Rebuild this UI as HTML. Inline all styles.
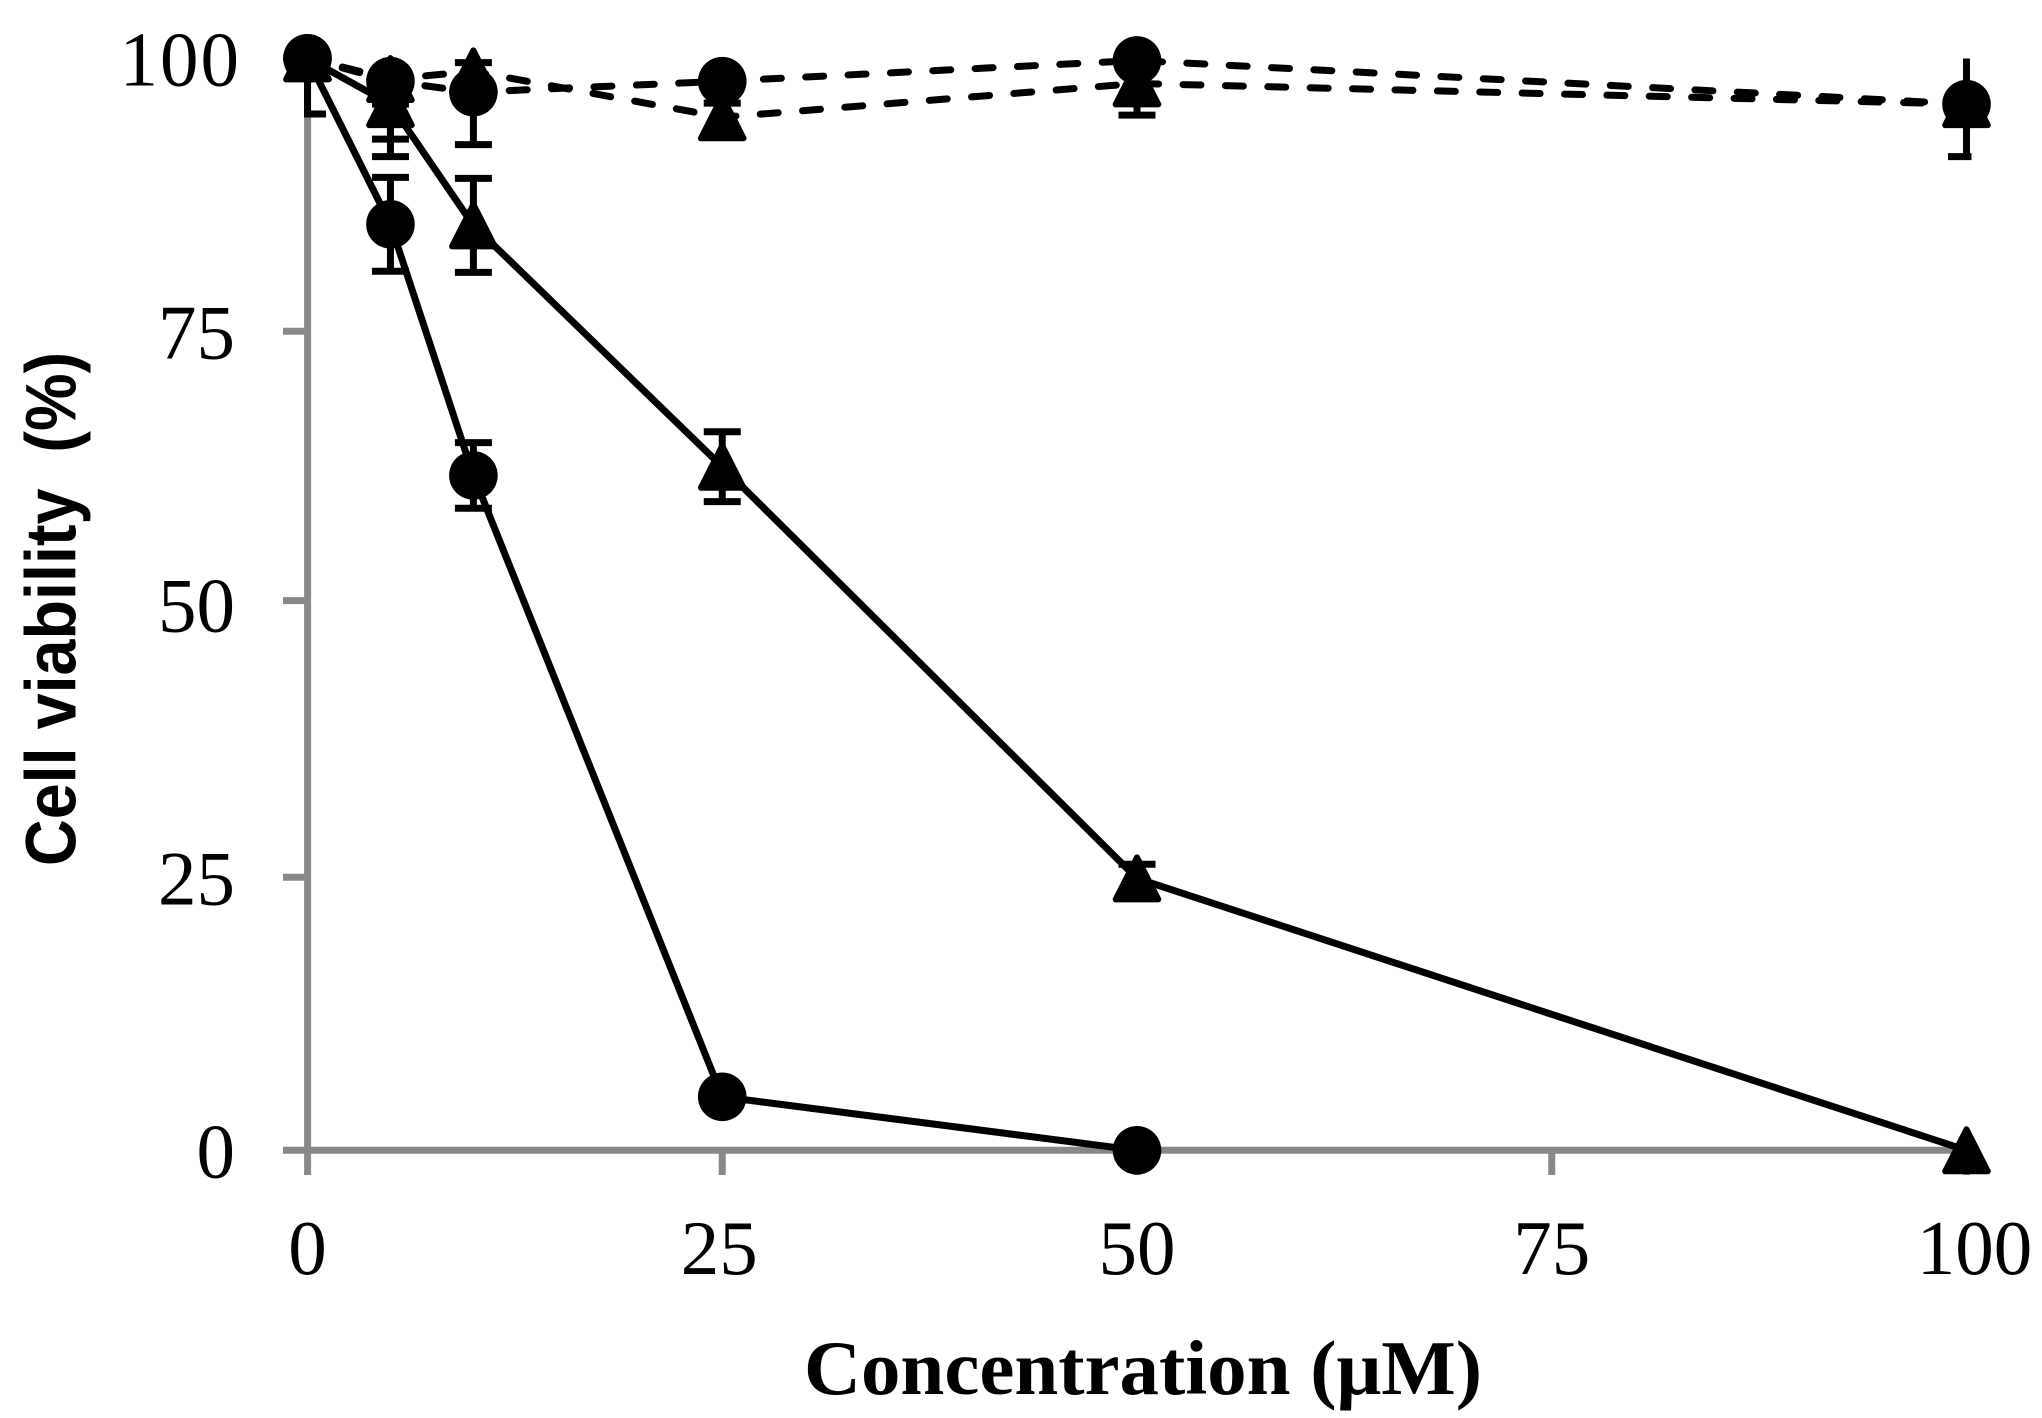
<!DOCTYPE html>
<html lang="en">
<head>
<meta charset="utf-8">
<title>Cell viability vs concentration</title>
<style>
  html, body { margin: 0; padding: 0; background: #fff; }
  svg { display: block; }
  .tick-label { font-family: "Liberation Serif", serif; font-size: 77px; fill: #000; }
</style>
</head>
<body>
<svg id="chart" xmlns="http://www.w3.org/2000/svg" width="2042" height="1418" viewBox="0 0 2042 1418">
  <rect x="0" y="0" width="2042" height="1418" fill="#ffffff"/>
  <defs>
    <clipPath id="plot-clip"><rect x="304" y="58.5" width="1667.5" height="1100"/></clipPath>
  </defs>
  <g id="axes"></g>
  <g id="series"></g>
  <text x="804" y="1394" font-family="'Liberation Serif', serif" font-weight="bold" font-size="77" textLength="678" lengthAdjust="spacingAndGlyphs" fill="#000">Concentration (μM)</text>
  <text transform="translate(75.5 866) rotate(-90)" font-family="'Liberation Sans', sans-serif" font-weight="bold" font-size="71" textLength="514" lengthAdjust="spacingAndGlyphs" xml:space="preserve" fill="#000">Cell viability  (%)</text>
</svg>
<script>
const xTicks = [0, 25, 50, 75, 100];
const yTicks = [0, 25, 50, 75, 100];
const concSolidCircle = [0, 5, 10, 25, 50];
const concOther = [0, 5, 10, 25, 50, 100];

const solidCircleValues = [100, 84.8, 61.8, 4.9, 0];
const solidCircleErrors = [0, 4.3, 3, 0, 0];

const solidTriangleValues = [100, 95.8, 84.7, 62.6, 24.9, 0];
const solidTriangleErrors = [0, 4.8, 4.3, 3.2, 1.3, 0];

const dashedTriangleValues = [100, 98.1, 98.8, 94.6, 97.7, 95.8];
const dashedTriangleErrors = [5.1, 2.3, 0.8, 1.3, 2.9, 0];

const dashedCircleValues = [100, 97.9, 96.9, 97.9, 99.8, 95.8];
const dashedCircleErrors = [0, 5.3, 4.8, 0, 0, 4.8];

const NS = 'http://www.w3.org/2000/svg';
const axesG = document.getElementById('axes');
const seriesG = document.getElementById('series');

function xScale(v) { return 307.5 + v * 16.59; }
function yScale(v) { return 1150.3 - v * 10.92; }

function make(tag, attrs, parent) {
  const el = document.createElementNS(NS, tag);
  for (const k in attrs) el.setAttribute(k, attrs[k]);
  parent.appendChild(el);
  return el;
}

const AXIS = '#888888';
const LINE_WIDTH = 7;

/* axes */
const yAxisLine = make('line', { x1: 307.6, x2: 307.6, y1: 54, y2: 1175, stroke: AXIS, 'stroke-width': 7 }, axesG);



const xAxisLine = make('line', { x1: 283, x2: 1971, y1: yScale(0), y2: yScale(0), stroke: AXIS, 'stroke-width': 7 }, axesG);



yTicks.forEach(function (t) {
  if (t !== 0) {
    const tickY = yScale(t) + (t === 50 ? -3.7 : 0);
    const tick = make('line', { x1: 283, x2: 305, y1: tickY, y2: tickY, stroke: AXIS, 'stroke-width': 7 }, axesG);
    
    
  }
  const label = make('text', { class: 'tick-label', x: t === 100 ? 241 : 235, y: yScale(t) + 27, 'text-anchor': 'end' }, axesG);
  if (t === 100) label.setAttribute('letter-spacing', '2');
  label.textContent = String(t);
  
  
});

xTicks.forEach(function (t) {
  if (t !== 0) {
    const tick = make('line', { x1: xScale(t), x2: xScale(t), y1: 1150, y2: 1175, stroke: AXIS, 'stroke-width': 7 }, axesG);
    
    
  }
  const nudge = t === 100 ? 8 : (t === 25 ? -3 : 0);
  const label = make('text', { class: 'tick-label', x: xScale(t) + nudge, y: 1274, 'text-anchor': 'middle' }, axesG);
  label.textContent = String(t);
  
  
});

/* series */
function drawSeries(name, xs, values, errors, marker, dashed) {
  const group = make('g', {}, seriesG);
  
  

  const pts = xs.map(function (x, i) { return xScale(x) + ',' + yScale(values[i]); }).join(' ');
  const lineAttrs = { points: pts, fill: 'none', stroke: '#000', 'stroke-width': LINE_WIDTH, 'stroke-linejoin': 'round' };
  if (dashed) {
    lineAttrs['stroke-dasharray'] = '18 24.4';
    lineAttrs['stroke-dashoffset'] = '-36';
    lineAttrs['stroke-linecap'] = 'round';
  }
  const line = make('polyline', lineAttrs, group);
  
  

  const errGroup = make('g', { 'clip-path': 'url(#plot-clip)', stroke: '#000' }, group);
  
  
  xs.forEach(function (x, i) {
    if (!errors[i]) return;
    const cx = xScale(x);
    const top = yScale(values[i] + errors[i]);
    const bottom = yScale(values[i] - errors[i]);
    const stem = make('line', { x1: cx, x2: cx, y1: top, y2: bottom, 'stroke-width': 7 }, errGroup);
    
    
    const capTop = make('line', { x1: cx - 18.5, x2: cx + 18.5, y1: top, y2: top, 'stroke-width': 7 }, errGroup);
    
    
    const capBottom = make('line', { x1: cx - 18.5, x2: cx + 18.5, y1: bottom, y2: bottom, 'stroke-width': 7 }, errGroup);
    
    
  });

  xs.forEach(function (x, i) {
    const cx = xScale(x);
    const cy = yScale(values[i]);
    let m;
    if (marker === 'circle') {
      m = make('circle', { cx: cx, cy: cy, r: 24.3, fill: '#000' }, group);
    } else {
      const pointsStr = cx + ',' + (cy - 21) + ' ' + (cx - 21.3) + ',' + (cy + 21) + ' ' + (cx + 21.3) + ',' + (cy + 21);
      m = make('polygon', { points: pointsStr, fill: '#000', stroke: '#000', 'stroke-width': 6, 'stroke-linejoin': 'round' }, group);
    }
    
    
  });
}

drawSeries('solid-triangle', concOther, solidTriangleValues, solidTriangleErrors, 'triangle', false);
drawSeries('solid-circle', concSolidCircle, solidCircleValues, solidCircleErrors, 'circle', false);
drawSeries('dashed-triangle', concOther, dashedTriangleValues, dashedTriangleErrors, 'triangle', true);
drawSeries('dashed-circle', concOther, dashedCircleValues, dashedCircleErrors, 'circle', true);
</script>
</body>
</html>
